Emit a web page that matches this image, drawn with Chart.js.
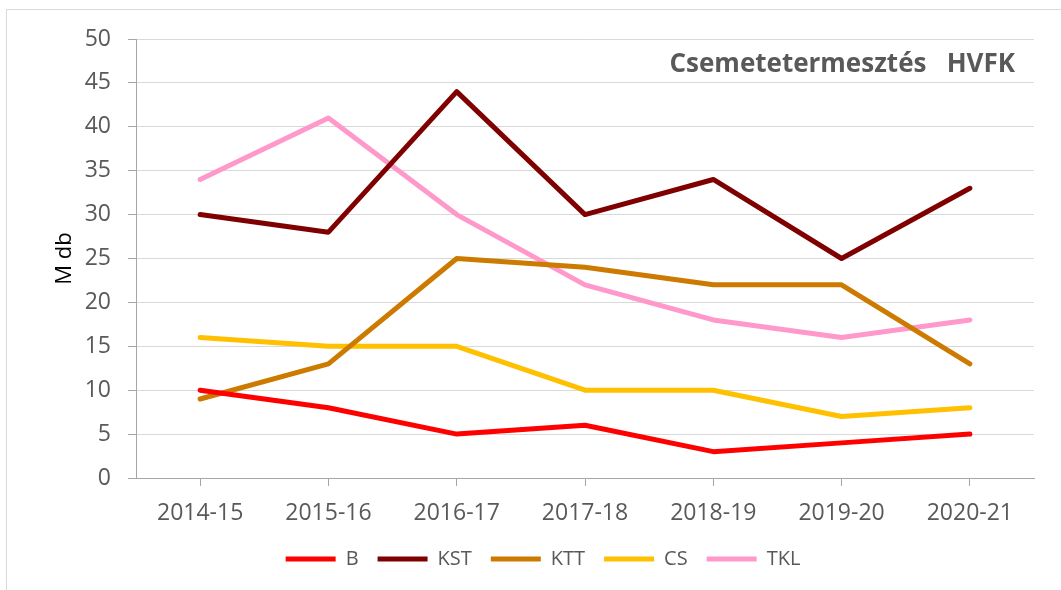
<!DOCTYPE html>
<html>
<head>
<meta charset="utf-8">
<script src="https://cdn.jsdelivr.net/npm/chart.js@4.4.0/dist/chart.umd.min.js"></script>
<style>
html,body{margin:0;padding:0;background:#fff;}
#wrap{position:relative;width:1061px;height:590px;}
</style>
</head>
<body>
<div id="wrap"><canvas id="c" width="1061" height="590"></canvas></div>
<script>
const categories = ["2014-15","2015-16","2016-17","2017-18","2018-19","2019-20","2020-21"];
const seriesB   = [10, 8, 5, 6, 3, 4, 5];
const seriesKST = [30, 28, 44, 30, 34, 25, 33];
const seriesKTT = [9, 13, 25, 24, 22, 22, 13];
const seriesCS  = [16, 15, 15, 10, 10, 7, 8];
const seriesTKL = [34, 41, 30, 22, 18, 16, 18];
const yTicks = [0,5,10,15,20,25,30,35,40,45,50];
const chartTitle = "Csemetetermesztés   HVFK";
const yTitle = "M db";

const FONT = "'Open Sans', sans-serif";
const TXT = "#595959";

function ds(label, data, color){
  return {label, data, borderColor:color, backgroundColor:color, borderWidth:5,
    borderCapStyle:'round', borderJoinStyle:'round', pointRadius:0, pointHoverRadius:0,
    tension:0, fill:false};
}

const frame = {
  id:'frame',
  beforeDraw(chart){
    const ctx = chart.ctx;
    ctx.save();
    ctx.fillStyle = '#fff';
    ctx.fillRect(0,0,chart.width,chart.height);
    ctx.strokeStyle = '#D9D9D9';
    ctx.lineWidth = 1;
    ctx.strokeRect(6.5, 9.5, 1060, 600);
    ctx.restore();
  },
  afterDatasetsDraw(chart){
    const ctx = chart.ctx;
    ctx.save();
    ctx.font = "bold 26px " + FONT;
    ctx.fillStyle = TXT;
    ctx.textAlign = 'right';
    ctx.textBaseline = 'middle';
    ctx.fillText(chartTitle, chart.chartArea.right - 19, 65);
    ctx.restore();
  }
};

new Chart(document.getElementById('c'), {
  type:'line',
  data:{
    labels: categories,
    datasets:[
      ds('B', seriesB, '#FF0000'),
      ds('KST', seriesKST, '#7F0000'),
      ds('KTT', seriesKTT, '#CC7A00'),
      ds('CS', seriesCS, '#FFC000'),
      ds('TKL', seriesTKL, '#FF99CC')
    ]
  },
  plugins:[frame],
  options:{
    responsive:false,
    animation:false,
    devicePixelRatio:1,
    layout:{padding:{left:52, top:39, right:27, bottom:11}},
    plugins:{
      tooltip:{enabled:false},
      title:{display:false},
      legend:{
        position:'bottom',
        labels:{
          usePointStyle:true, pointStyle:'line', pointStyleWidth:50,
          color:TXT, font:{family:FONT, size:20}, padding:19, boxHeight:19
        }
      }
    },
    scales:{
      x:{
        offset:true,
        grid:{display:true, drawOnChartArea:false, offset:false, tickLength:8, tickColor:'#A6A6A6'},
        border:{color:'#A6A6A6', width:1},
        ticks:{color:TXT, font:{family:FONT, size:23}, padding:14, maxRotation:0},
        afterFit(scale){ scale.height = 52; }
      },
      y:{
        min:0, max:50,
        afterBuildTicks(scale){ scale.ticks = yTicks.map(v=>({value:v})); },
        grid:{color:'#D9D9D9', tickLength:8, tickColor:'#A6A6A6'},
        border:{color:'#A6A6A6', width:1},
        ticks:{color:TXT, font:{family:FONT, size:23}, padding:17},
        title:{display:true, text:yTitle, color:'#000', font:{family:FONT, size:22}, padding:{top:0,bottom:0}},
        afterFit(scale){ scale.width = 84; }
      }
    }
  }
});
</script>
</body>
</html>
